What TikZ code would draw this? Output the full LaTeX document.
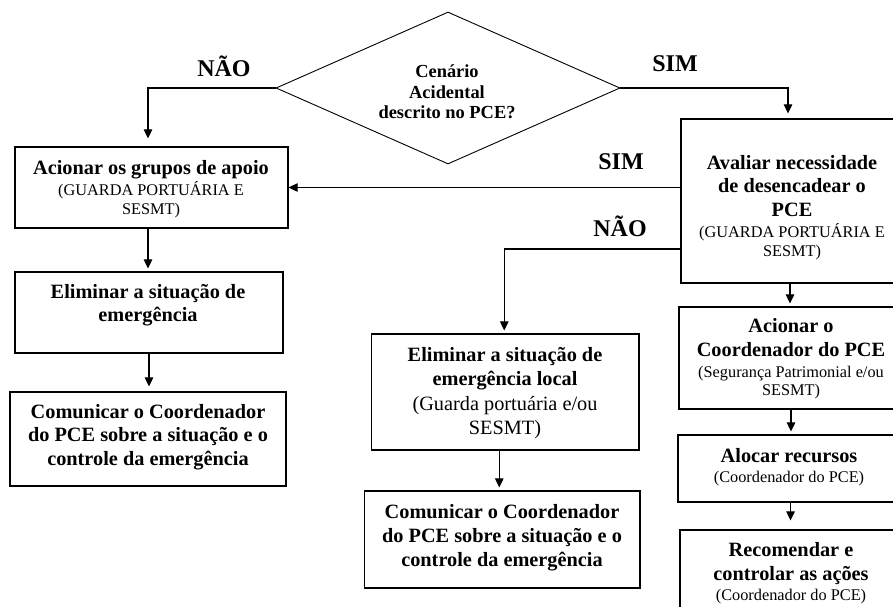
\documentclass[tikz,border=0pt]{standalone}
\usepackage{fontspec}
\setmainfont{Liberation Serif}
\usetikzlibrary{arrows.meta,shapes.geometric,calc}
\newcommand{\smalltxt}{\fontsize{16.3}{19}\selectfont}
\begin{document}
\begin{tikzpicture}[x=1pt,y=-1pt,
  box/.style={draw, line width=1.2pt, inner sep=0pt},
  txt/.style={align=center, inner sep=0pt, font=\fontsize{20.3}{23.5}\selectfont},
  lbl/.style={inner sep=0pt, font=\fontsize{24}{28}\selectfont\bfseries},
  arr/.style={line width=1.1pt, -{Triangle[length=9pt,width=8.5pt]}, shorten >=3pt}
]
\useasboundingbox (0,0) rectangle (893,606);
\clip (0,0) rectangle (893,606);
\fill[white] (0,0) rectangle (893,606);

% decision
\node[draw, line width=0.9pt, shape=diamond, inner sep=0pt, minimum width=344pt, minimum height=152pt] (d) at (448,88) {};
\node[align=center, inner sep=0pt, font=\fontsize{18.4}{20.5}\selectfont\bfseries] (dt) at (447,92) {Cenário\\Acidental\\descrito no PCE?};

% left column
\node[box, minimum width=273pt, minimum height=81pt] (a1) at (151.5,187.5) {};
\node[txt] (a1t) at (151,189) {{\bfseries Acionar os grupos de apoio}\\[-2.5pt]{\smalltxt (GUARDA PORTUÁRIA E}\\[-4.5pt]{\smalltxt SESMT)}};
\node[box, minimum width=268pt, minimum height=81pt] (e1) at (149,312.5) {};
\node[txt, font=\fontsize{20.3}{23.5}\selectfont\bfseries] (e1t) at (148,305) {Eliminar a situação de\\emergência};
\node[box, minimum width=276pt, minimum height=94pt] (c1) at (148,439) {};
\node[txt, font=\fontsize{20.3}{23.5}\selectfont\bfseries] (c1t) at (148,437) {Comunicar o Coordenador\\do PCE sobre a situação e o\\controle da emergência};

% middle column
\node[box, minimum width=267.5pt, minimum height=116pt] (el) at (505.25,392) {};
\node[txt, font=\fontsize{20.3}{24.5}\selectfont] (elt) at (505,393) {{\bfseries Eliminar a situação de}\\{\bfseries emergência local}\\(Guarda portuária e/ou\\SESMT)};
\node[box, minimum width=275.5pt, minimum height=97pt] (c2) at (502.25,539.5) {};
\node[txt, font=\fontsize{20.3}{24}\selectfont\bfseries] (c2t) at (502,537.5) {Comunicar o Coordenador\\do PCE sobre a situação e o\\controle da emergência};

% right column
\node[box, minimum width=222pt, minimum height=164pt] (av) at (792,201) {};
\node[txt] (avt) at (792,207.5) {{\bfseries Avaliar necessidade}\\{\bfseries de desencadear o}\\{\bfseries PCE}\\[-2.5pt]{\smalltxt (GUARDA PORTUÁRIA E}\\[-4.5pt]{\smalltxt SESMT)}};
\node[box, minimum width=224pt, minimum height=102pt] (ac) at (791,358) {};
\node[txt] (act) at (791,358.5) {{\bfseries Acionar o}\\{\bfseries Coordenador do PCE}\\[-2.5pt]{\smalltxt (Segurança Patrimonial e/ou}\\[-5.5pt]{\smalltxt SESMT)}};
\node[box, minimum width=225pt, minimum height=67pt] (al) at (790.5,468.5) {};
\node[txt] (alt) at (789,467) {{\bfseries Alocar recursos}\\[-3pt]{\smalltxt (Coordenador do PCE)}};
\node[box, minimum width=223pt, minimum height=110pt] (rc) at (791.5,585) {};
\node[txt] (rct) at (791,573.5) {{\bfseries Recomendar e}\\{\bfseries controlar as ações}\\[-3pt]{\smalltxt (Coordenador do PCE)}};

% labels
\node[lbl] (l1) at (224,66) {NÃO};
\node[lbl] (l2) at (675,64) {SIM};
\node[lbl] (l3) at (621,162) {SIM};
\node[lbl] (l4) at (620,226) {NÃO};

% connectors
\draw[arr, shorten >=8pt] (d.west) -| ([xshift=-3.5pt]a1.north);
\draw[arr, shorten >=5pt] (d.east) -| ([xshift=-4pt]av.north);
\draw[arr, shorten >=0pt] (av.west |- a1.east) -- (a1.east);
\coordinate (avn) at ($(av.west)+(0,48)$);
\draw[arr] (avn) -| ([xshift=-1pt]el.north);
\draw[arr] ([xshift=-3.5pt]a1.south) -- ([xshift=-3.5pt]a1.south |- e1.north);
\draw[arr, shorten >=5pt] (e1.south) -- (e1.south |- c1.north);
\draw[arr] ([xshift=-6pt]el.south) -- ([xshift=-6pt]el.south |- c2.north);
\draw[arr] ([xshift=-2pt]av.south) -- ([xshift=-2pt]av.south |- ac.north);
\draw[arr] (ac.south) -- (ac.south |- al.north);
\draw[arr, shorten >=9pt] (al.south) -- (al.south |- rc.north);
\end{tikzpicture}
\end{document}
